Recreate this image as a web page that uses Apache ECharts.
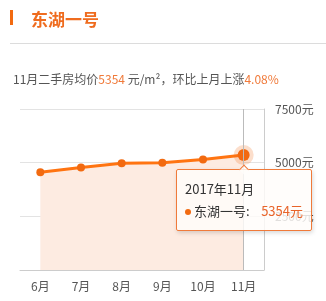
<!DOCTYPE html>
<html><head><meta charset="utf-8">
<script src="https://cdn.jsdelivr.net/npm/echarts@6/dist/echarts.min.js"></script>
<style>html,body{margin:0;padding:0;background:#fff;}#c{width:326px;height:301px;}</style>
</head><body><div id="c"></div>
<script>
var titleText = '东湖一号';
var months = ['6月', '7月', '8月', '9月', '10月', '11月'];
var prices = [4550, 4770, 4970, 5000, 5144, 5354];
var tipLabels = ['2017年6月', '2017年7月', '2017年8月', '2017年9月', '2017年10月', '2017年11月'];
var yTicks = [0, 2500, 5000, 7500];
var summaryMonth = '11月';
var summaryPrice = '5354';
var summaryChange = '4.08%';

var FONT = '"Noto Sans CJK SC", "Noto Sans", sans-serif';
var ORANGE = '#f26a10';
var AREA = '#fdebe1';
var chart = echarts.init(document.getElementById('c'));
chart.setOption({
  animation: false,
  textStyle: {fontFamily: FONT},
  title: [{
    text: titleText, left: 26, top: 6,
    textStyle: {color: '#ef6c1f', fontSize: 17, fontWeight: 'bold', fontFamily: FONT}
  }, {
    text: '{g|' + summaryMonth + '二手房均价}{o|' + summaryPrice + '}{g| 元/m²，环比上月上涨}{o|' + summaryChange + '}',
    left: 8, top: 68,
    textStyle: {
      fontSize: 12, fontFamily: FONT, fontWeight: 'normal',
      rich: {
        g: {color: '#555', fontSize: 12, fontFamily: FONT, fontWeight: 'normal'},
        o: {color: '#f07a3a', fontSize: 12, fontFamily: FONT, fontWeight: 'normal'}
      }
    }
  }],
  graphic: [
    {type: 'rect', shape: {x: 10, y: 10, width: 3, height: 15}, style: {fill: ORANGE}},
    {type: 'line', shape: {x1: 10, y1: 43.5, x2: 326, y2: 43.5}, style: {stroke: '#dcdcdc', lineWidth: 1}}
  ],
  grid: {left: 20, right: 62, top: 109, bottom: 31},
  tooltip: {
    trigger: 'item',
    position: 'bottom',
    backgroundColor: 'rgba(255,253,250,0.82)',
    borderColor: '#f07a3a',
    borderWidth: 1,
    padding: [8, 8],
    extraCssText: 'box-shadow:1px 2px 4px rgba(0,0,0,0.15);border-radius:2px;width:118px;',
    formatter: function (p) {
      return '<div style="font-family:' + FONT.replace(/"/g, "'") + ';font-size:13px;color:#333;line-height:22px;">' +
        tipLabels[p.dataIndex] + '<br/>' +
        '<span style="display:inline-block;width:6px;height:6px;border-radius:3px;background:' + ORANGE + ';margin-right:3px;vertical-align:middle;"></span>' +
        '东湖一号:<span style="float:right;color:#e8642a;">' + prices[p.dataIndex] + '元</span></div>';
    }
  },
  xAxis: {
    type: 'category', data: months, boundaryGap: true,
    axisLine: {lineStyle: {color: '#cccccc'}},
    axisTick: {alignWithLabel: true, length: 4, lineStyle: {color: '#cccccc'}},
    axisLabel: {color: '#555', fontSize: 12, margin: 10, fontFamily: FONT},
    splitLine: {show: false}
  },
  yAxis: {
    type: 'value', position: 'right', min: yTicks[0], max: yTicks[yTicks.length - 1], interval: 2500,
    axisLine: {show: true, lineStyle: {color: '#cccccc'}},
    axisTick: {show: false},
    axisLabel: {color: '#555', fontSize: 12, margin: 11, showMinLabel: false, formatter: function (v) { return v + '元'; }, fontFamily: FONT},
    splitLine: {lineStyle: {color: '#e3e3e3'}}
  },
  series: [{
    type: 'line', name: titleText, data: prices,
    symbol: 'circle', symbolSize: 8,
    lineStyle: {color: ORANGE, width: 3},
    itemStyle: {color: ORANGE},
    areaStyle: {color: AREA, opacity: 1},
    emphasis: {scale: 1.5, areaStyle: {color: AREA, opacity: 1}, itemStyle: {color: ORANGE, borderColor: 'rgba(242,106,16,0.22)', borderWidth: 8}},
    markLine: {
      silent: true, symbol: 'none', label: {show: false},
      lineStyle: {color: '#bbbbbb', type: 'solid', width: 1},
      data: [{xAxis: months[months.length - 1]}]
    }
  }]
});
chart.dispatchAction({type: 'highlight', seriesIndex: 0, dataIndex: 5});
chart.dispatchAction({type: 'showTip', seriesIndex: 0, dataIndex: 5});
</script></body></html>
